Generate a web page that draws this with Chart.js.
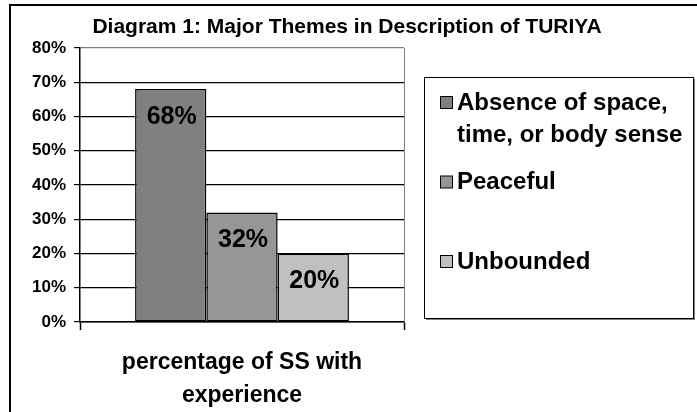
<!DOCTYPE html>
<html>
<head>
<meta charset="utf-8">
<script src="https://cdn.jsdelivr.net/npm/chart.js@4"></script>
<style>
  html, body { margin: 0; padding: 0; background: #fff; }
  canvas { display: block; }
</style>
</head>
<body>
<canvas id="chart" width="697" height="412"></canvas>
<script>
// data
const chartTitle = 'Diagram 1: Major Themes in Description of TURIYA';
const categories = [['percentage of SS with', 'experience']];
const seriesNames = [
  ['Absence of space,', 'time, or body sense'],
  ['Peaceful'],
  ['Unbounded'],
];
const absenceValues = [68];
const peacefulValues = [32];
const unboundedValues = [20];
const yTicks = [0, 10, 20, 30, 40, 50, 60, 70, 80];

const seriesColors = ['#808080', '#969696', '#c0c0c0'];
const FONT = 'Arial, "Liberation Sans", sans-serif';

// frame, title, plot border, legend box
const framePlugin = {
  id: 'frame',
  beforeDraw(chart) {
    const { ctx } = chart;
    ctx.save();
    ctx.fillStyle = '#fff';
    ctx.fillRect(0, 0, chart.width, chart.height);
    ctx.strokeStyle = '#000';
    ctx.lineWidth = 2;
    ctx.strokeRect(10, 5, 700, 430);
    ctx.restore();
  },
  afterDraw(chart) {
    const { ctx, chartArea } = chart;
    ctx.save();
    // title
    ctx.fillStyle = '#000';
    ctx.font = 'bold 21px ' + FONT;
    ctx.textAlign = 'center';
    ctx.textBaseline = 'middle';
    ctx.fillText(chartTitle, 347, 27);

    // gray right border of plot
    ctx.strokeStyle = '#808080';
    ctx.lineWidth = 1;
    ctx.beginPath();
    ctx.moveTo(Math.round(chartArea.right) + 0.5, chartArea.top);
    ctx.lineTo(Math.round(chartArea.right) + 0.5, chartArea.bottom);
    ctx.stroke();

    // legend
    const box = { x: 424, y: 77, w: 269, h: 241 };
    ctx.fillStyle = '#808080';
    ctx.fillRect(box.x + 2, box.y + box.h + 1, box.w, 1);
    ctx.fillRect(box.x + box.w + 1, box.y + 2, 1, box.h);
    ctx.strokeStyle = '#000';
    ctx.strokeRect(box.x + 0.5, box.y + 0.5, box.w, box.h);

    ctx.font = 'bold 24px ' + FONT;
    ctx.textAlign = 'left';
    ctx.textBaseline = 'middle';
    chart.data.datasets.forEach((ds, i) => {
      const y0 = 103 + i * 79.5;
      ctx.fillStyle = ds.backgroundColor;
      ctx.fillRect(440.5, y0 - 6.5, 12, 12);
      ctx.strokeStyle = '#000';
      ctx.strokeRect(440.5, y0 - 6.5, 12, 12);
      ctx.fillStyle = '#000';
      seriesNames[i].forEach((line, j) => {
        ctx.fillText(line, 457, y0 + j * 32);
      });
    });
    ctx.restore();
  },
};

// value labels inside bars
const valueLabels = {
  id: 'valueLabels',
  afterDatasetsDraw(chart) {
    const { ctx } = chart;
    ctx.save();
    ctx.fillStyle = '#000';
    ctx.font = 'bold 25px ' + FONT;
    ctx.textAlign = 'center';
    ctx.textBaseline = 'middle';
    chart.data.datasets.forEach((ds, i) => {
      chart.getDatasetMeta(i).data.forEach((bar, j) => {
        ctx.fillText(ds.data[j] + '%', bar.x + 1, bar.y + 28);
      });
    });
    ctx.restore();
  },
};

const valueSets = [absenceValues, peacefulValues, unboundedValues];

new Chart(document.getElementById('chart'), {
  type: 'bar',
  data: {
    labels: categories,
    datasets: valueSets.map((vals, i) => ({
      label: seriesNames[i].join(' '),
      data: vals,
      backgroundColor: seriesColors[i],
      borderColor: '#000',
      borderWidth: 1.5,
      borderSkipped: false,
      categoryPercentage: 0.66,
      barPercentage: 1.0,
    })),
  },
  options: {
    responsive: false,
    animation: false,
    events: [],
    layout: { padding: { top: 48, left: 0, right: 293, bottom: 0 } },
    plugins: {
      legend: { display: false },
      title: { display: false },
      tooltip: { enabled: false },
    },
    scales: {
      x: {
        afterFit(scale) { scale.height = 90; },
        grid: {
          display: true,
          drawOnChartArea: false,
          offset: true,
          tickLength: 8,
          tickColor: '#000',
          tickWidth: 1.5,
        },
        border: { display: true, color: '#000', width: 1.5 },
        ticks: {
          color: '#000',
          padding: 16,
          maxRotation: 0,
          font: { family: FONT, size: 23, weight: 'bold', lineHeight: 1.43 },
        },
      },
      y: {
        min: yTicks[0],
        max: yTicks[yTicks.length - 1],
        afterFit(scale) { scale.width = 80; },
        afterBuildTicks(scale) { scale.ticks = yTicks.map(v => ({ value: v })); },
        grid: {
          color: (c) => (c.tick && c.tick.value === 80 ? '#808080' : '#000'),
          tickColor: '#000',
          tickLength: 6,
          lineWidth: 1.2,
        },
        border: { display: true, color: '#000', width: 1.5 },
        ticks: {
          color: '#000',
          padding: 8,
          font: { family: FONT, size: 17, weight: 'bold' },
          callback: (v) => v + '%',
        },
      },
    },
  },
  plugins: [framePlugin, valueLabels],
});
</script>
</body>
</html>
